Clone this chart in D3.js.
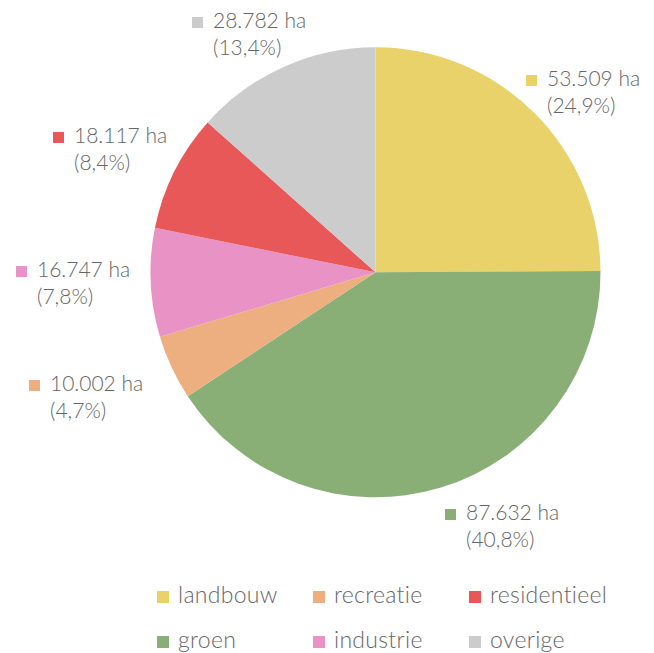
<!DOCTYPE html>
<html>
<head>
<meta charset="utf-8">
<script src="https://cdn.jsdelivr.net/npm/d3@7"></script>
<style>
  html, body { margin: 0; padding: 0; background: #fff; }
  svg { display: block; }
  text { font-family: Lato, "Open Sans", sans-serif; font-weight: 300; fill: #666; }
</style>
</head>
<body>
<svg id="chart" width="654" height="653"></svg>
<script>
// ---- data ----
const categories = ["landbouw", "groen", "recreatie", "industrie", "residentieel", "overige"];
const hectares   = [53509, 87632, 10002, 16747, 18117, 28782];
const percentLabels = ["24,9%", "40,8%", "4,7%", "7,8%", "8,4%", "13,4%"];
const legendOrder = ["landbouw", "recreatie", "residentieel", "groen", "industrie", "overige"];
const colors = ["#E9D26A", "#8AAF76", "#EDAE80", "#E892C6", "#E85858", "#CCCCCC"];

// ---- layout ----
const W = 654, H = 653;
const cx = 375.5, cy = 272.3, R = 225;
const svg = d3.select("#chart");

const color = d3.scaleOrdinal().domain(categories).range(colors);
const fmt = d3.formatLocale({decimal: ",", thousands: ".", grouping: [3], currency: ["", ""]}).format(",d");

const data = categories.map((c, i) => ({cat: c, value: hectares[i], pct: percentLabels[i]}));
const pie = d3.pie().value(d => d.value).sort(null);
const arc = d3.arc().innerRadius(0).outerRadius(R);
const arcs = pie(data);

const g = svg.append("g").attr("transform", `translate(${cx},${cy})`);
g.selectAll("path").data(arcs).join("path")
  .attr("d", arc)
  .attr("fill", d => color(d.data.cat));

// label anchors (text start x, first baseline y) per category
const labelAnchor = {
  landbouw:     [547, 86],
  groen:        [466, 520],
  recreatie:    [50, 391],
  industrie:    [37, 277],
  residentieel: [74, 143],
  overige:      [213, 28]
};
const labelFont = 21, lineGap = 27, sq = 11;
const lab = svg.append("g");
arcs.forEach(a => {
  const [x, y] = labelAnchor[a.data.cat];
  lab.append("rect").attr("x", x - 21).attr("y", y - sq).attr("width", sq).attr("height", sq)
    .attr("fill", color(a.data.cat));
  lab.append("text").attr("x", x).attr("y", y).attr("font-size", labelFont)
    .text(fmt(a.data.value) + " ha");
  lab.append("text").attr("x", x).attr("y", y + lineGap).attr("font-size", labelFont)
    .text("(" + a.data.pct + ")");
});

// legend
const legX = d3.scalePoint().domain([0, 1, 2]).range([157, 469]);
const legY = d3.scalePoint().domain([0, 1]).range([603, 648]);
const leg = svg.append("g");
legendOrder.forEach((c, i) => {
  const col = i % 3, row = Math.floor(i / 3);
  const x = legX(col), y = legY(row);
  leg.append("rect").attr("x", x).attr("y", y - 12).attr("width", 12).attr("height", 12)
    .attr("fill", color(c));
  leg.append("text").attr("x", x + 21).attr("y", y).attr("font-size", 23)
    .attr("letter-spacing", 0.3).text(c);
});
</script>
</body>
</html>
